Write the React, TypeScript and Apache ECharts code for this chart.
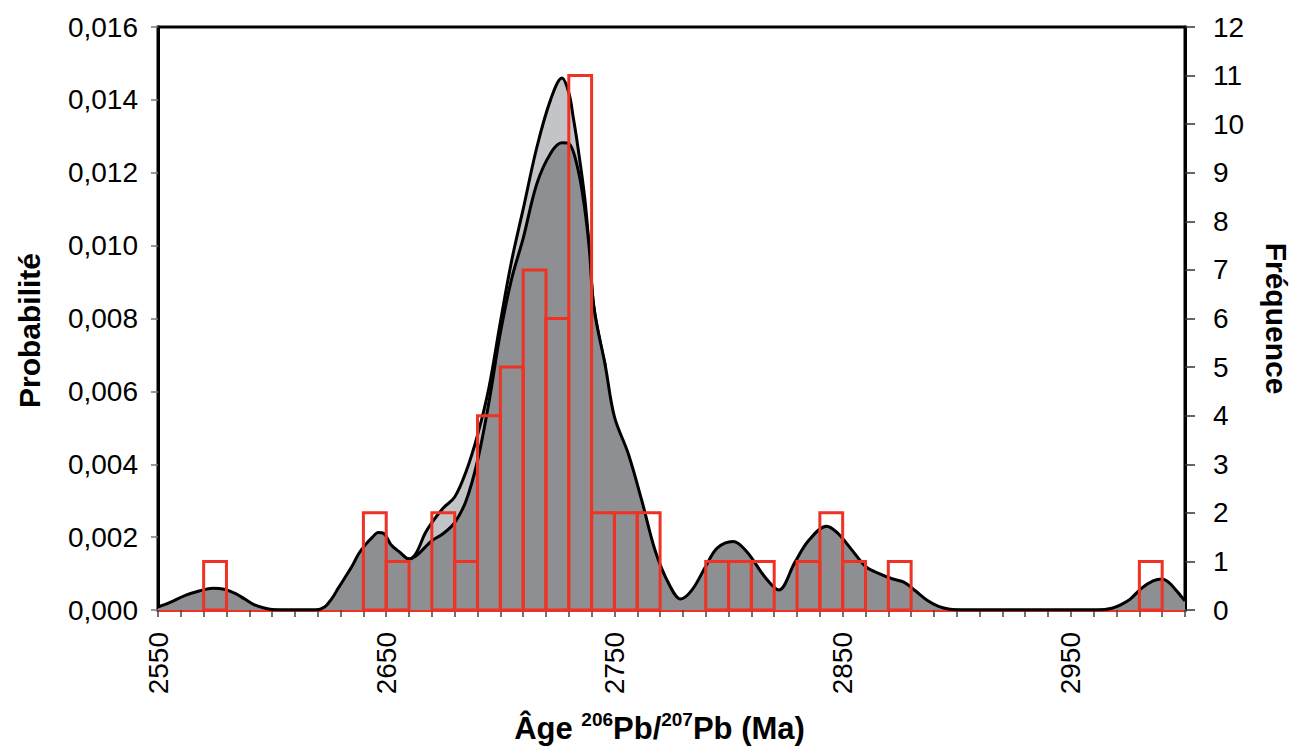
import React, { useEffect, useRef } from "react";
import * as echarts from "echarts";

// Probability density curve (dark grey, lower main peak)
const darkAges = [
  2550, 2555, 2562, 2568, 2574, 2579, 2584, 2588, 2592, 2597, 2601, 2610, 2619,
  2623, 2626, 2629, 2632, 2635, 2638, 2641, 2644, 2646.5, 2649, 2652, 2656,
  2660, 2663, 2667, 2670, 2675, 2680, 2685, 2690, 2695, 2700, 2705, 2710, 2716,
  2722, 2727, 2730, 2734, 2737, 2739, 2741, 2746, 2750, 2756, 2762, 2768, 2774,
  2779, 2784, 2790, 2795, 2802, 2808, 2816, 2822, 2829, 2835, 2843, 2848, 2854,
  2860, 2866, 2872, 2877, 2882, 2887, 2892, 2897, 2902, 2930, 2962, 2968, 2972,
  2976, 2981, 2986, 2990, 2993, 2996, 2998, 3000,
];
const darkProb = [
  0.00008, 0.0002, 0.0004, 0.00052, 0.0006, 0.00057, 0.00045, 0.0003, 0.00015,
  0.00005, 0.00001, 0, 0, 0.00008, 0.0003, 0.0006, 0.0009, 0.0012, 0.00155,
  0.0018, 0.002, 0.00213, 0.0021, 0.0018, 0.00158, 0.0014, 0.00148, 0.00172,
  0.0019, 0.0021, 0.0024, 0.003, 0.0041, 0.0057, 0.0076, 0.0091, 0.0102, 0.0117,
  0.01253, 0.01282, 0.0128, 0.0121, 0.011, 0.0099, 0.0083, 0.0067, 0.0053,
  0.0043, 0.003, 0.0016, 0.0007, 0.0003, 0.00055, 0.0012, 0.0017, 0.00188,
  0.0016, 0.0009, 0.00055, 0.0013, 0.0019, 0.0023, 0.0021, 0.00165, 0.0012,
  0.001, 0.00085, 0.00076, 0.00052, 0.00027, 0.0001, 0.00002, 0, 0, 0, 0.00005,
  0.00015, 0.0003, 0.0006, 0.0008, 0.00085, 0.00075, 0.00055, 0.0004, 0.00025,
];

// Second probability curve (light grey, higher main peak)
const lightAges = [
  2656, 2660, 2663, 2667, 2670, 2675, 2680, 2685, 2690, 2695, 2700, 2705, 2710,
  2716, 2722, 2727, 2730, 2732, 2734, 2737, 2739, 2741, 2746,
];
const lightProb = [
  0.00158, 0.0014, 0.00155, 0.0021, 0.0024, 0.0028, 0.0031, 0.0038, 0.0048,
  0.0061, 0.0079, 0.0096, 0.011, 0.0127, 0.014, 0.0146, 0.0142, 0.0135, 0.0127,
  0.0113, 0.0099, 0.0083, 0.0067,
];

// Histogram: bin start (Ma), bin width 10 Ma, frequency
const binStarts = [
  2570, 2640, 2650, 2670, 2680, 2690, 2700, 2710, 2720, 2730, 2740, 2750, 2760,
  2790, 2800, 2810, 2830, 2840, 2850, 2870, 2980,
];
const binCounts = [1, 2, 1, 2, 1, 4, 5, 7, 6, 11, 2, 2, 2, 1, 1, 1, 1, 2, 1, 1, 1];
const binWidth = 10;

const FONT = "'Liberation Sans', Arial, sans-serif";
const RED = "#ee3224";

export default function App() {
  const ref = useRef<HTMLDivElement>(null);

  useEffect(() => {
    if (!ref.current) return;
    const chart = echarts.init(ref.current, null, { renderer: "svg" });

    const darkData = darkAges.map((a, i) => [a, darkProb[i]]);
    const lightData = lightAges.map((a, i) => [a, lightProb[i]]);
    const histData = binStarts.map((s, i) => [s, binCounts[i]]);

    chart.setOption({
      animation: false,
      backgroundColor: "#ffffff",
      textStyle: { fontFamily: FONT },
      grid: {
        left: 158,
        right: 113,
        top: 27,
        bottom: 142,
        show: true,
        borderColor: "#000",
        borderWidth: 3,
        backgroundColor: "transparent",
      },
      xAxis: {
        type: "value",
        min: 2550,
        max: 3000,
        interval: 50,
        name: "{b|Âge }{s|206}{b|Pb/}{s|207}{b|Pb (Ma)}",
        nameLocation: "middle",
        nameGap: 100,
        nameTextStyle: {
          padding: [0, 24, 0, 0],
          rich: {
            b: { fontSize: 31, fontWeight: "bold", color: "#000", fontFamily: FONT, lineHeight: 36 },
            s: {
              fontSize: 19,
              fontWeight: "bold",
              color: "#000",
              fontFamily: FONT,
              verticalAlign: "top",
              lineHeight: 36,
              padding: [0, 0, 12, 0],
            },
          },
        },
        axisLine: { show: true, onZero: false, lineStyle: { color: RED, width: 3 } },
        axisTick: { show: true, length: 7, lineStyle: { color: "#444", width: 1.5 } },
        minorTick: { show: true, splitNumber: 5, length: 7, lineStyle: { color: "#444", width: 1.5 } },
        axisLabel: {
          rotate: 90,
          margin: 22,
          fontSize: 28,
          color: "#000",
          fontFamily: FONT,
          formatter: (v: number) => ((v - 2550) % 100 === 0 ? String(v) : ""),
        },
        splitLine: { show: false },
        minorSplitLine: { show: false },
      },
      yAxis: [
        {
          type: "value",
          min: 0,
          max: 0.016,
          interval: 0.002,
          position: "left",
          name: "Probabilité",
          nameLocation: "middle",
          nameRotate: 90,
          nameGap: 114,
          nameTextStyle: {
            fontSize: 30,
            fontWeight: "bold",
            color: "#000",
            fontFamily: FONT,
            padding: [0, 24, 0, 0],
          },
          axisLine: { show: true, lineStyle: { color: "#000", width: 3 } },
          axisTick: { show: true, length: 7, lineStyle: { color: "#777", width: 1.5 } },
          axisLabel: {
            fontSize: 28,
            color: "#000",
            margin: 20,
            fontFamily: FONT,
            formatter: (v: number) => v.toFixed(3).replace(".", ","),
          },
          splitLine: { show: false },
        },
        {
          type: "value",
          min: 0,
          max: 12,
          interval: 1,
          position: "right",
          name: "Fréquence",
          nameLocation: "middle",
          nameRotate: -90,
          nameGap: 76,
          nameTextStyle: { fontSize: 30, fontWeight: "bold", color: "#000", fontFamily: FONT },
          axisLine: { show: true, lineStyle: { color: "#000", width: 3 } },
          axisTick: { show: true, length: 10, lineStyle: { color: "#333", width: 1.5 } },
          axisLabel: { fontSize: 28, color: "#000", margin: 28, fontFamily: FONT },
          splitLine: { show: false },
        },
      ],
      series: [
        {
          name: "Probabilité 2",
          type: "line",
          data: lightData,
          smooth: 0.35,
          symbol: "none",
          z: 2,
          lineStyle: { color: "#000", width: 3 },
          areaStyle: { color: "#c3c4c7", opacity: 1 },
        },
        {
          name: "Probabilité",
          type: "line",
          data: darkData,
          smooth: 0.35,
          symbol: "none",
          z: 3,
          lineStyle: { color: "#000", width: 3 },
          areaStyle: { color: "#8d8f93", opacity: 1 },
        },
        {
          name: "Fréquence",
          type: "custom",
          yAxisIndex: 1,
          z: 4,
          data: histData,
          encode: { x: 0, y: 1 },
          renderItem: (params: any, api: any) => {
            const start = api.value(0);
            const count = api.value(1);
            const p0 = api.coord([start, count]);
            const p1 = api.coord([start + binWidth, 0]);
            return {
              type: "rect",
              shape: { x: p0[0], y: p0[1], width: p1[0] - p0[0], height: p1[1] - p0[1] },
              style: { fill: "none", stroke: RED, lineWidth: 3 },
            };
          },
        },
      ],
    });

    return () => chart.dispose();
  }, []);

  return (
    <div
      ref={ref}
      style={{ position: "fixed", left: 0, top: 0, width: 1299, height: 752, background: "#fff" }}
    />
  );
}
